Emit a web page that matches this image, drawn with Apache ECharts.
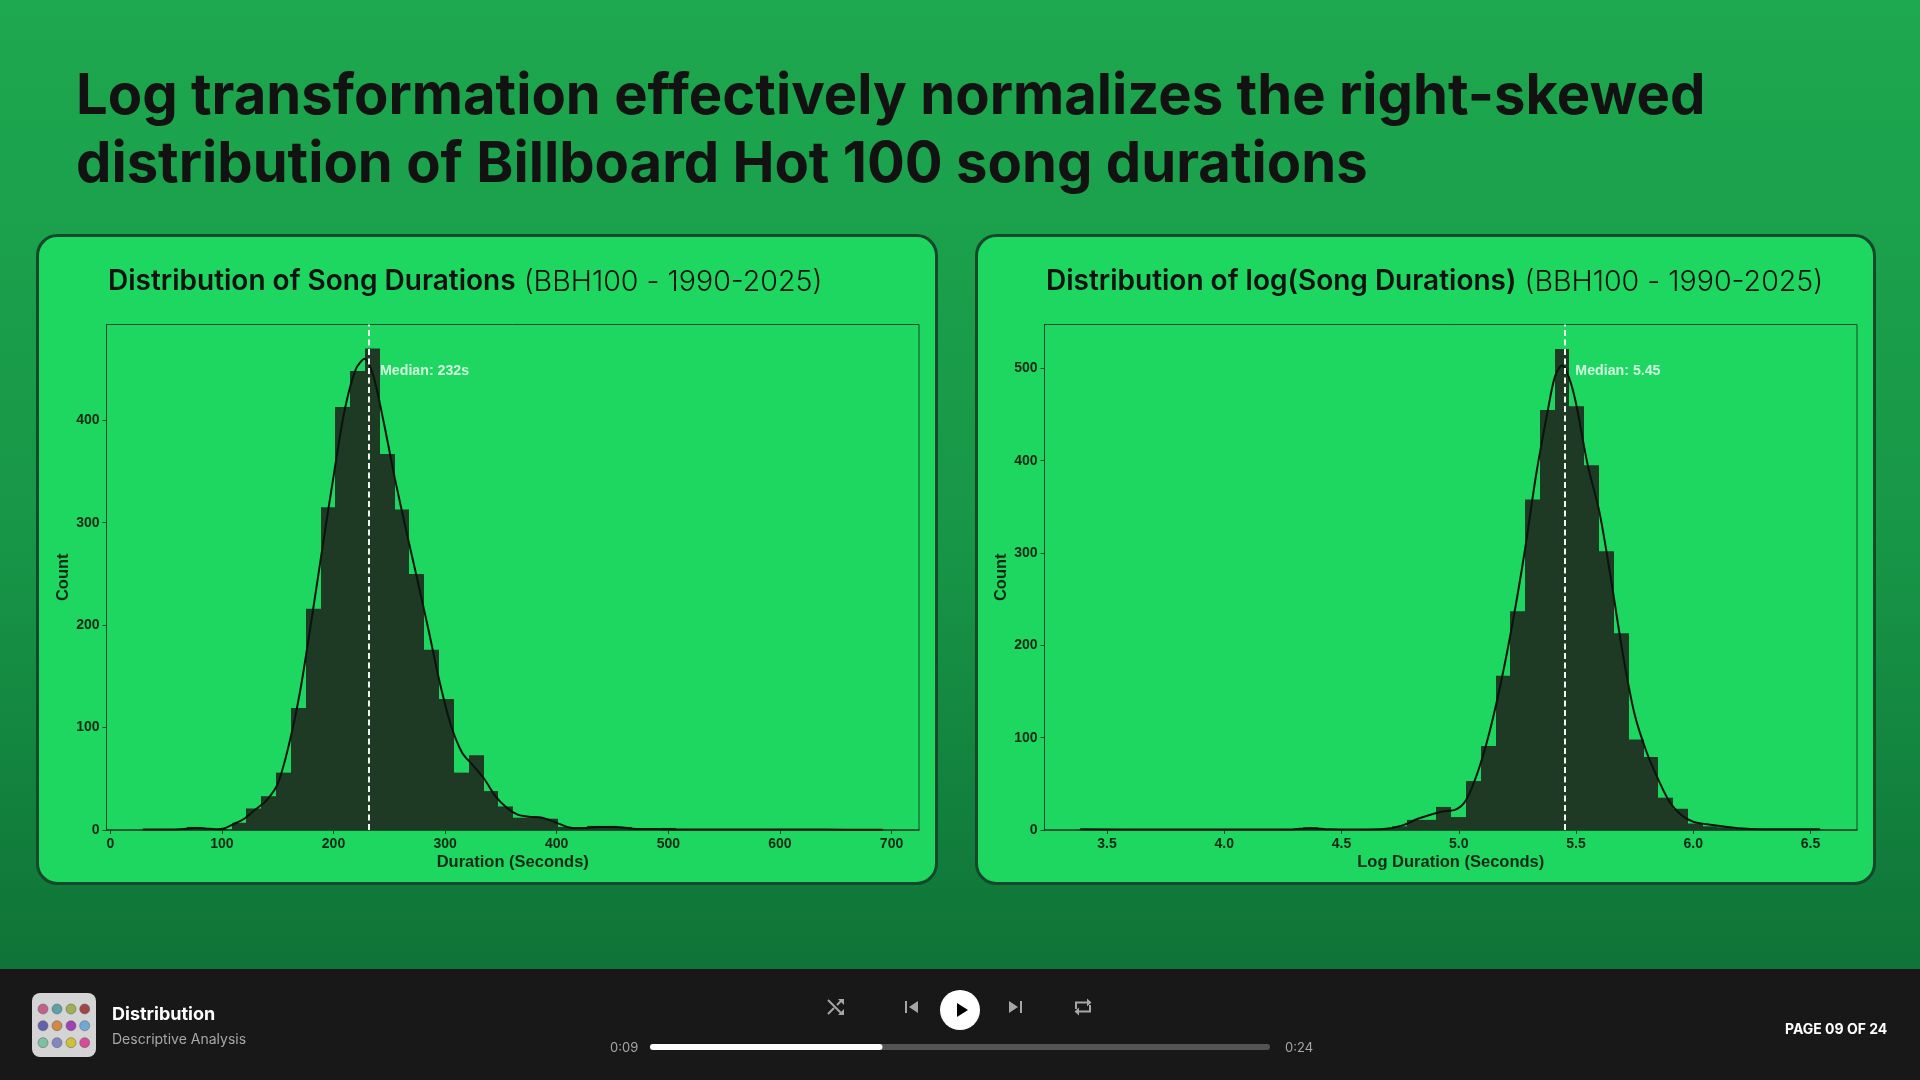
<!DOCTYPE html>
<html><head><meta charset="utf-8">
<style>html,body{margin:0;padding:0;width:1920px;height:1080px;overflow:hidden;background:#0f6f35}#c{width:1920px;height:1080px}</style>
<script src="https://cdn.jsdelivr.net/npm/echarts@6/dist/echarts.min.js"></script>
</head><body><div id="c"></div>
<script>
const durationBinEdges=[29,42.28,55.56,68.84,82.12,95.4,108.68,121.96,135.24,148.52,161.8,175.08,188.36,201.64,214.92,228.2,241.48,254.76,268.04,281.32,294.6,307.88,321.16,334.44,347.72,361,374.28,387.56,400.84,414.12,427.4,440.68,453.96,467.24,480.52,493.8,507.08,520.36,533.64,546.92,560.2,573.48,586.76,600.04,613.32,626.6,639.88,653.16,666.44,679.72,693];
const durationCounts=[1,0,1,3,1,1,7,21,33,56,119,216,315,413,448,470,367,313,250,176,128,56,73,38,23,12,12,11,3,1,4,4,3,1,1,2,1,1,1,0,1,0,1,0,1,1,0,0,1,1];
const durationKdeX=[29,50,66,76,85,95,102,110,120,130,140,150,160,170,180,190,200,210,220,228,236,245,255,265,275,285,295,305,315,325,335,345,355,365,375,387,400,414,425,435,452,473,490,510,560,620,660,692];
const durationKdeY=[0.5,0.5,1,2,1.5,0.7,1.5,5.5,11,20,29,45,83,135,203,275,345,410,450,460,442,398,343,293,245,196,145,103,76,63,50,33,22,15,13,12,7,2,2,3,3,1,1,0.5,0.4,0.5,0.3,0.3];
const logBinEdges=[3.39,3.453,3.516,3.579,3.642,3.706,3.769,3.832,3.895,3.958,4.021,4.084,4.147,4.21,4.273,4.337,4.4,4.463,4.526,4.589,4.652,4.715,4.778,4.841,4.904,4.968,5.031,5.094,5.157,5.22,5.283,5.346,5.409,5.472,5.535,5.598,5.662,5.725,5.788,5.851,5.914,5.977,6.04,6.103,6.166,6.23,6.293,6.356,6.419,6.482,6.545];
const logCounts=[1,1,0,0,0,0,0,0,0,0,0,0,0,0,1,3,1,0,0,0,1,4,11,11,25,14,53,91,167,237,358,455,521,459,395,302,213,98,79,35,23,7,4,3,2,1,1,0,1,1];
const logKdeX=[3.385,3.7,4.0,4.28,4.366,4.45,4.565,4.68,4.756,4.835,4.93,4.986,5.03,5.08,5.13,5.18,5.23,5.28,5.33,5.38,5.41,5.44,5.47,5.5,5.55,5.6,5.65,5.7,5.75,5.8,5.85,5.9,5.95,6.0,6.05,6.114,6.228,6.4,6.54];
const logKdeY=[0.7,0.5,0.5,0.5,2,0.7,0.5,1,4.7,13,20,22,32,62,105,160,225,300,385,455,491,503,490,462,395,344,270,190,125,85,55,30,16,9,6.5,4.3,1.4,0.8,0.8];
const xTicksDuration=[0,100,200,300,400,500,600,700];
const yTicksDuration=[0,100,200,300,400];
const xTicksLog=[3.5,4.0,4.5,5.0,5.5,6.0,6.5];
const yTicksLog=[0,100,200,300,400,500];
const medianDuration=232, medianLog=5.445;
const medianDurationLabel='Median: 232s', medianLogLabel='Median: 5.45';
const mainTitleLines=['Log transformation effectively normalizes the right-skewed','distribution of Billboard Hot 100 song durations'];
const cardTitles=[['Distribution of Song Durations',' (BBH100 - 1990-2025)'],['Distribution of log(Song Durations)',' (BBH100 - 1990-2025)']];
const axisNames=[['Duration (Seconds)','Count'],['Log Duration (Seconds)','Count']];

const INK='#0e2a17', BAR='#1e3a24', LINE='#0a140d', CARD='#1ed760', EDGE='#15482a';
const chart=echarts.init(document.getElementById('c'));
const hist=(edges,counts)=>counts.map((c,i)=>[edges[i],edges[i+1],c]);
const zip=(a,b)=>a.map((v,i)=>[v,b[i]]);
function renderBin(p,api){
  const c=api.value(2); if(!c) return null;
  const a=api.coord([api.value(0),c]), b=api.coord([api.value(1),0]);
  const x0=Math.round(a[0]),x1=Math.round(b[0]);
  return {type:'rect',shape:{x:x0,y:a[1],width:x1-x0,height:b[1]-a[1]},style:{fill:BAR}};
}
function xAxis(i,min,max,ticks,name,dec){return {gridIndex:i,type:'value',min,max,name,nameLocation:'middle',nameGap:24,
  nameTextStyle:{fontFamily:'Liberation Sans',fontWeight:'bold',fontSize:16.5,color:INK},
  splitLine:{show:false},axisLine:{show:true,onZero:false,lineStyle:{color:EDGE,width:1.5}},
  axisTick:{show:true,length:4,lineStyle:{color:EDGE},customValues:ticks},
  axisLabel:{customValues:ticks,margin:7,fontFamily:'Liberation Sans',fontWeight:'bold',fontSize:14,color:INK,formatter:v=>v.toFixed(dec)}};}
function yAxis(i,max,ticks,name){return {gridIndex:i,type:'value',min:0,max,name,nameLocation:'middle',nameGap:35,
  nameTextStyle:{fontFamily:'Liberation Sans',fontWeight:'bold',fontSize:16.5,color:INK},
  splitLine:{show:false},axisLine:{show:true,onZero:false,lineStyle:{color:EDGE,width:1}},
  axisTick:{show:true,length:4,lineStyle:{color:EDGE},customValues:ticks},
  axisLabel:{customValues:ticks,margin:7,fontFamily:'Liberation Sans',fontWeight:'bold',fontSize:14,color:INK}};}
function seriesFor(i,edges,counts,kx,ky,med,labelText,lx,ly){
  return [
   {type:'custom',xAxisIndex:i,yAxisIndex:i,renderItem:renderBin,data:hist(edges,counts),encode:{x:[0,1],y:2},silent:true,z:2},
   {type:'line',xAxisIndex:i,yAxisIndex:i,data:zip(kx,ky),showSymbol:false,smooth:0.3,lineStyle:{color:LINE,width:2},silent:true,z:3},
   {type:'line',xAxisIndex:i,yAxisIndex:i,data:[[med,0]],showSymbol:false,silent:true,z:4,lineStyle:{opacity:0},
    markLine:{silent:true,symbol:'none',animation:false,label:{show:false},lineStyle:{color:'#f2f7f2',type:[6,3.5],width:2},data:[{xAxis:med}]}},
   {type:'scatter',xAxisIndex:i,yAxisIndex:i,data:[[lx,ly]],symbolSize:0,silent:true,z:5,
    label:{show:true,position:'right',distance:0,formatter:labelText,fontFamily:'Liberation Sans',fontWeight:'bold',fontSize:14.2,color:'#fff'}}
  ];
}
const txt=(x,y,text,font,fill)=>({type:'text',x,y,silent:true,z:5,style:{text,font,fill,verticalAlign:'middle',align:'left'}});
const card=(x,w)=>({type:'rect',silent:true,z:-5,shape:{x,y:235.5,width:w,height:648,r:20},style:{fill:CARD,stroke:EDGE,lineWidth:3}});
const cardTitle=(x,p)=>({type:'text',x,y:282,silent:true,z:5,style:{text:'{a|'+p[0]+'}{b|'+p[1]+'}',verticalAlign:'middle',rich:{
   a:{fontFamily:'Inter',fontWeight:600,fontSize:28,fill:'#121212',color:'#121212'},
   b:{fontFamily:'Inter',fontWeight:300,fontSize:28.6,fill:'#121212',color:'#121212'}}}});
const ICON='#a6a6a6';
const albumColors=[['#c4608c','#5f9fa8','#9fb052','#a24444'],['#6460b0','#d08a42','#a042b4','#72a8d8'],['#7cc2a2','#8088c0','#d0c034','#d84a9a']];
const albumX=[43,57,71,84.7], albumY=[1009,1025.7,1042.7];
const album=[];
albumColors.forEach((r,j)=>r.forEach((c,i)=>album.push({type:'circle',silent:true,z:5,shape:{cx:albumX[i],cy:albumY[j],r:5},style:{fill:c,stroke:'rgba(90,90,90,.5)',lineWidth:1}})));
const pl=(pts,lw)=>({type:'polyline',silent:true,z:5,shape:{points:pts},style:{stroke:ICON,lineWidth:lw||2,fill:null}});
const pg=(pts,fill)=>({type:'polygon',silent:true,z:6,shape:{points:pts},style:{fill:fill||ICON}});
const graphics=[
  card(37.5,899),card(976.5,898),
  txt(76,97,mainTitleLines[0],'700 56.2px Inter','#121212'),
  txt(76,165,mainTitleLines[1],'700 56.2px Inter','#121212'),
  cardTitle(108,cardTitles[0]),cardTitle(1046,cardTitles[1]),
  {type:'rect',silent:true,z:1,shape:{x:0,y:969,width:1920,height:111},style:{fill:'#181818'}},
  {type:'rect',silent:true,z:2,shape:{x:32,y:993,width:64,height:64,r:8},style:{fill:'#d4d4d4'}},
  ...album,
  txt(112,1015,'Distribution','700 18px Inter','#ffffff'),
  txt(112,1040,'Descriptive Analysis','400 14px Inter','#a7a7a7'),
  txt(1785,1030,'PAGE 09 OF 24','700 14px Inter','#ffffff'),
  txt(610,1048,'0:09','400 13px Inter','#a7a7a7'),
  txt(1285,1048,'0:24','400 13px Inter','#a7a7a7'),
  {type:'rect',silent:true,z:3,shape:{x:650,y:1044,width:620,height:6,r:3},style:{fill:'#535353'}},
  {type:'rect',silent:true,z:4,shape:{x:650,y:1044,width:232.5,height:6,r:3},style:{fill:'#ffffff'}},
  {type:'circle',silent:true,z:5,shape:{cx:960,cy:1010,r:20},style:{fill:'#ffffff'}},
  pg([[957,1003],[957,1017],[968,1010]],'#000000'),
  pg([[918,1001],[918,1013],[909,1007]]),pl([[906,1001],[906,1013]],2),
  pg([[1009,1001],[1009,1013],[1018,1007]]),pl([[1021,1001],[1021,1013]],2),
  pl([[828,1000],[842,1014]]),pl([[828,1014],[834,1008]]),pl([[837,1005],[842,1000]]),
  pg([[838,999],[844,999],[844,1005]]),pg([[838,1015],[844,1015],[844,1009]]),
  pl([[1076,1009],[1076,1002.5],[1089,1002.5]]),pl([[1090,1005],[1090,1011.5],[1077,1011.5]]),
  pg([[1087,998.5],[1091.5,1002.5],[1087,1006.5]]),pg([[1079,1007.5],[1074.5,1011.5],[1079,1015.5]])
];
chart.setOption({
  animation:false,
  backgroundColor:{type:'linear',x:0,y:0,x2:0,y2:1,colorStops:[{offset:0,color:'#1ea84f'},{offset:0.5,color:'#179647'},{offset:0.9,color:'#0f7337'},{offset:1,color:'#0f7337'}]},
  graphic:{elements:graphics},
  grid:[
    {left:106.5,top:324.5,width:812.5,height:505.5,show:true,borderColor:EDGE,borderWidth:1,backgroundColor:'transparent'},
    {left:1044.5,top:324.5,width:812.5,height:505.5,show:true,borderColor:EDGE,borderWidth:1,backgroundColor:'transparent'}
  ],
  xAxis:[xAxis(0,-3.4,724.6,xTicksDuration,axisNames[0][0],0),xAxis(1,3.2335,6.698,xTicksLog,axisNames[1][0],1)],
  yAxis:[yAxis(0,493.5,yTicksDuration,axisNames[0][1]),yAxis(1,547.5,yTicksLog,axisNames[1][1])],
  series:[
    ...seriesFor(0,durationBinEdges,durationCounts,durationKdeX,durationKdeY,medianDuration,medianDurationLabel,241.7,448),
    ...seriesFor(1,logBinEdges,logCounts,logKdeX,logKdeY,medianLog,medianLogLabel,5.497,497)
  ]
});
</script></body></html>
